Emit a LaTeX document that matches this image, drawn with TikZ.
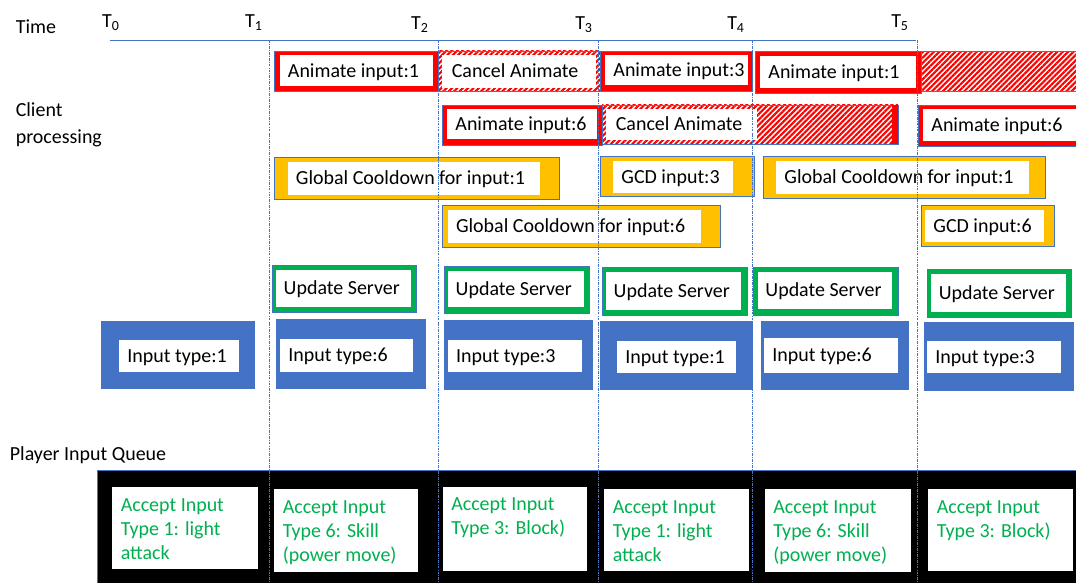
\documentclass[tikz,border=0pt]{standalone}
\usepackage{fontspec}
\setmainfont{Carlito}
\usetikzlibrary{fit,patterns.meta}
\definecolor{boxblue}{HTML}{4472C4}
\definecolor{gcdyellow}{HTML}{FFC000}
\definecolor{srvgreen}{HTML}{00B050}
\tikzset{every node/.style={inner sep=0pt,font=\fontsize{14.2}{17.2}\selectfont}}
\tikzset{outer/.style={rectangle,draw=boxblue,line width=0.5pt}}
\tikzset{inbox/.style={rectangle,fill=white}}
\tikzset{lbl/.style={anchor=base west}}
\tikzset{hatch/.style={pattern={Lines[angle=45,distance=2.7pt,line width=1.5pt]},pattern color=red}}
\tikzset{tline/.style={draw=boxblue,line width=0.6pt,dash pattern=on 2pt off 0.8pt on 0.6pt off 0.8pt}}
\tikzset{accept/.style={anchor=north west,align=left,text=srvgreen}}

\begin{document}
\begin{tikzpicture}[x=0.025cm,y=-0.025cm]
  \clip (0,0) rectangle (1076,583);
  \fill[white] (0,0) rectangle (1076,583);

  % time axis
  \node[anchor=west] (time) at (15.5,27) {Time};
  \foreach \i/\x/\y in {0/111/23,1/254/23,2/420/25,3/584/25,4/736/25,5/900/23}
    \node (T\i) at (\x,\y) {T\textsubscript{\i}};
  \coordinate (axl) at (109.5,40);
  \coordinate (axr) at (916,40);
  \draw[boxblue,line width=0.6pt] (axl) -- (axr);

  \node[anchor=north west,align=left,font=\fontsize{14.2}{18.9}\selectfont] (client) at (15.5,102.5) {Client\\processing};
  \node[anchor=west] (queue) at (9.6,455) {Player Input Queue};

  % animate
  \foreach \n/\xa/\ya/\xb/\yb/\txt in {a1/274.5/51/438/91.7/Animate input:1,
      a6/442/105/602/145/Animate input:6,
      a3/600/51/752.6/91/Animate input:3,
      a1b/755/51.7/921/93.3/Animate input:1,
      a6b/918/105/1082/146.7/Animate input:6}{
    \node[outer,fill=red,fit={(\xa,\ya) (\xb,\yb)}] (\n) {};
    \node[inbox,fit={({\xa+5},{\ya+4.5}) ({\xb-5},{\yb-5.5})}] (\n-in) {};
    \node[lbl] (\n-txt) at ([xshift=6pt,yshift=-4.5pt]\n-in.west) {\txt};
  }

  % cancel
  \node[outer,hatch,fit={(438,51) (600,91.7)}] (c1) {};
  \node[inbox,fit={(442,55) (596,87.7)}] (c1-in) {};
  \node[lbl] (c1-txt) at ([xshift=7pt,yshift=-4.5pt]c1-in.west) {Cancel Animate};
  \node[outer,hatch,fit={(602,105) (898,144)}] (c2) {};
  \fill[red] (892,105.3) rectangle (897.7,143.7);
  \node[inbox,fit={(606,109) (757,140)}] (c2-in) {};
  \node[lbl] (c2-txt) at ([xshift=7pt,yshift=-4.5pt]c2-in.west) {Cancel Animate};
  \node[outer,hatch,fit={(921,51.7) (1082,91)}] (c3) {};

  % global cooldown
  \foreach \n/\xa/\ya/\xb/\yb/\ia/\ib/\txt in {g1/274.5/157.7/559/199.3/287.5/540/Global Cooldown for input:1,
      g6/442/205.7/720/247.3/447.6/701/Global Cooldown for input:6,
      g3/600/156.7/754/196.7/613/733/GCD input:3,
      g1b/763/156.7/1045/198.3/776/1029/Global Cooldown for input:1,
      g6b/921/205.7/1054.5/246/925/1044/GCD input:6}{
    \node[outer,fill=gcdyellow,fit={(\xa,\ya) (\xb,\yb)}] (\n) {};
    \node[inbox,fit={(\ia,{\ya+4}) (\ib,{\yb-4})}] (\n-in) {};
    \node[lbl] (\n-txt) at ([xshift=6pt,yshift=-4.5pt]\n-in.west) {\txt};
  }

  % update server
  \foreach \n/\xa/\ya/\xb/\yb in {u1/272/265/416.7/312.7,u2/444/266/589.6/313.3,
      u3/602/267.3/747/315.7,u4/753.7/267.3/898/315,u5/927/269.3/1071.6/317.7}{
    \node[outer,fill=srvgreen,fit={(\xa,\ya) (\xb,\yb)}] (\n) {};
    \node[inbox,fit={({\xa+4},{\ya+5}) ({\xb-6},{\yb-6})}] (\n-in) {};
    \node[lbl] (\n-txt) at ([xshift=5.5pt,yshift=-4.5pt]\n-in.west) {Update Server};
  }

  % input type
  \foreach \n/\xa/\ya/\xb/\yb/\ia/\ja/\ib/\jb/\k in {i1/101/320.7/255/388.7/119/340/238.6/372.3/1,
      i6/276/319/426/388.7/280/338.7/413/371.7/6,
      i3/444/320/593/390/447.7/340/581.7/372.3/3,
      i1b/600/321/752.6/390/617/341/735.6/373.3/1,
      i6b/761/320.7/909/390/764/338.3/898/372.7/6,
      i3b/924/321.7/1074/391/927/341/1061/373.3/3}{
    \node[rectangle,fill=boxblue,fit={(\xa,\ya) (\xb,\yb)}] (\n) {};
    \node[inbox,fit={(\ia,\ja) (\ib,\jb)}] (\n-in) {};
    \node[lbl] (\n-txt) at ([xshift=6pt,yshift=-4.5pt]\n-in.west) {Input type:\k};
  }

  % player input queue
  \node[outer,fill=black,fit={(97,470) (1082,590)}] (qbg) {};
  \foreach \n/\xa/\ya/\xb/\yb/\txt in {q1/112/487.3/257.6/569.3/Accept Input\\Type 1: light\\attack,
      q2/274/489.3/418/572/Accept Input\\Type 6: Skill\\(power move),
      q3/442.5/486.7/587/570.7/Accept Input\\Type 3: Block),
      q4/604/489.3/748.5/570.7/Accept Input\\Type 1: light\\attack,
      q5/764.6/489.3/911/572/Accept Input\\Type 6: Skill\\(power move),
      q6/928/489.3/1073/570.7/Accept Input\\Type 3: Block)}{
    \node[inbox,fit={(\xa,\ya) (\xb,\yb)}] (\n) {};
    \node[accept] (\n-txt) at ({\xa+8.5},{\ya+11}) {\txt};
  }

  % time marks
  \foreach \x in {269.6,438,598,752.6,917.8}
    \draw[tline] (\x,40) -- (\x,583);
\end{tikzpicture}
\end{document}
